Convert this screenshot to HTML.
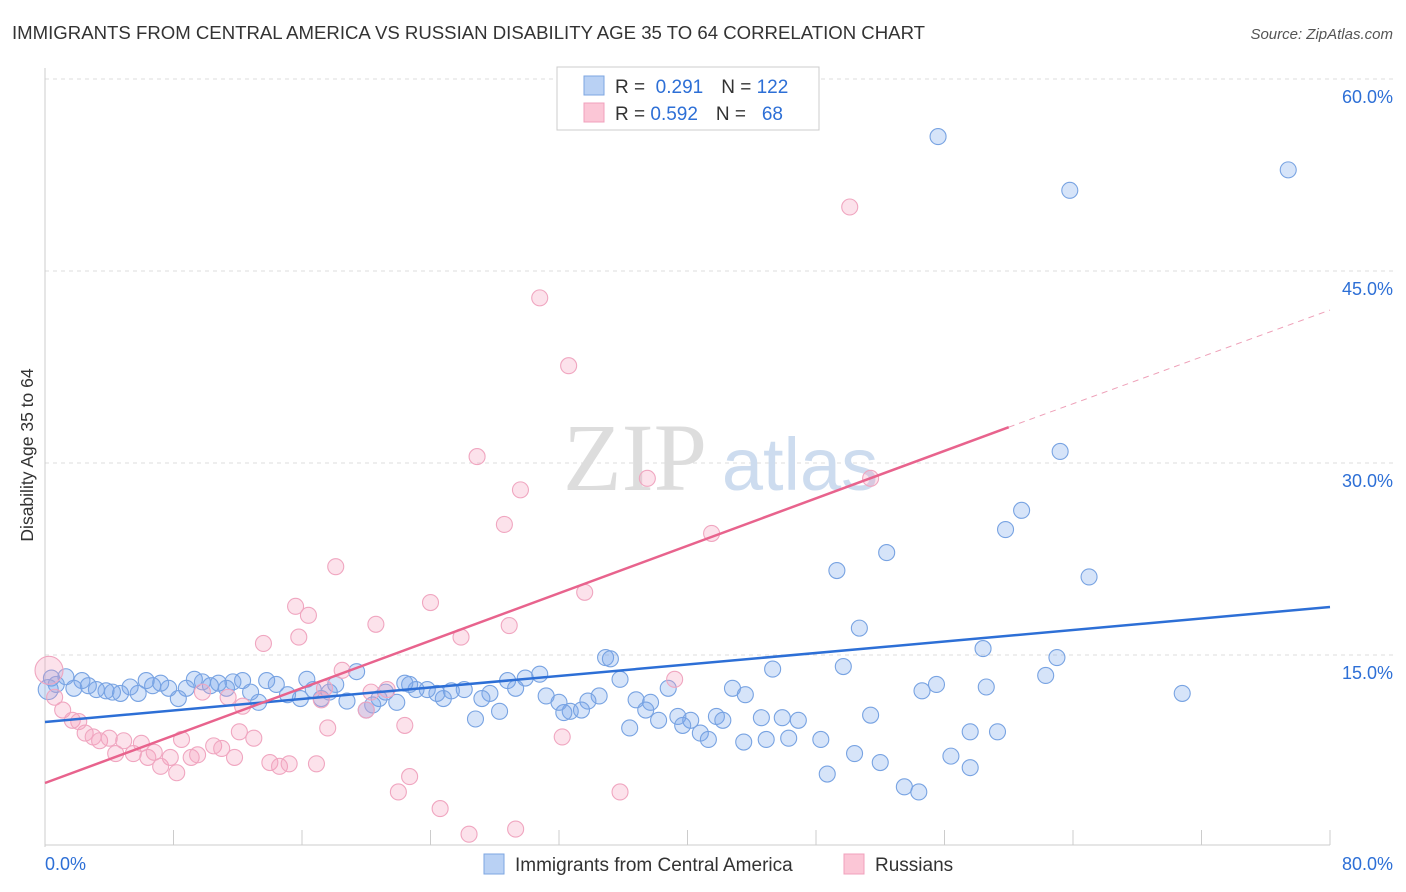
<!DOCTYPE html>
<html><head><meta charset="utf-8"><style>
body{margin:0;background:#fff;font-family:"Liberation Sans",sans-serif;}
svg{display:block}
</style></head><body>
<svg id="chart" width="1406" height="892">
<text x="12" y="39" font-size="18.6" fill="#333">IMMIGRANTS FROM CENTRAL AMERICA VS RUSSIAN DISABILITY AGE 35 TO 64 CORRELATION CHART</text>
<text x="1393" y="39" font-size="15" fill="#555" font-style="italic" text-anchor="end">Source: ZipAtlas.com</text>
<text transform="translate(33,455) rotate(-90)" font-size="17.5" fill="#333" text-anchor="middle">Disability Age 35 to 64</text>
<g id="grid"></g>
<g>
<text x="635" y="490" font-size="96" font-family="Liberation Serif,serif" fill="#ddd" text-anchor="middle">ZIP</text>
<text x="800" y="490" font-size="74" fill="#cddcef" text-anchor="middle">atlas</text>
</g>
<g id="pts"></g>
<g id="lines"></g>
<g>
<rect x="557" y="67" width="262" height="63" fill="#fff" stroke="#ccc"/>
<rect x="584" y="76" width="20" height="19" fill="#b9d1f4" stroke="#7da6e2"/>
<rect x="584" y="103" width="20" height="19" fill="#fbc6d6" stroke="#f0a0bc"/>
<text x="615" y="93" font-size="19" fill="#333">R = <tspan fill="#2d6fd6">&#160;0.291</tspan><tspan dx="18">N = </tspan><tspan fill="#2d6fd6">122</tspan></text>
<text x="615" y="120" font-size="19" fill="#333">R = <tspan fill="#2d6fd6">0.592</tspan><tspan dx="18">N = </tspan><tspan fill="#2d6fd6">&#160;&#160;68</tspan></text>
</g>
<g>
<rect x="484" y="854" width="20" height="20" fill="#b9d1f4" stroke="#7da6e2"/>
<text x="515" y="871" font-size="19" fill="#333">Immigrants from Central America</text>
<rect x="844" y="854" width="20" height="20" fill="#fbc6d6" stroke="#f0a0bc"/>
<text x="875" y="871" font-size="19" fill="#333">Russians</text>
</g>
</svg>
<script>
const yTicks=[15,30,45,60];
const xTickLabels=["0.0%","80.0%"];
const blueX=[55.6,77.4,63.8,63.2,60.8,59.8,52.4,49.3,65.0,50.7,58.4,63.0,49.7,45.3,62.3,55.5,54.6,58.6,70.8,42.8,43.6,51.4,44.6,45.9,46.9,41.8,42.2,40.2,39.4,38.2,39.7,40.8,41.3,43.5,44.9,46.3,48.3,57.6,59.3,50.4,56.4,52.0,57.6,48.7,53.5,54.4,36.4,34.9,35.2,35.8,34.5,33.8,36.8,37.7,37.4,38.8,32.7,33.4,32.3,32.0,31.2,30.8,29.9,28.8,29.3,27.7,28.3,26.8,27.2,26.1,25.3,24.8,24.4,23.8,23.1,22.7,22.4,21.9,21.2,20.8,20.4,20.0,19.4,18.1,18.8,17.7,17.2,16.7,16.3,15.9,15.1,14.4,13.8,13.3,12.8,12.3,11.7,11.3,10.8,10.3,9.8,9.3,8.8,8.3,7.7,7.2,6.7,6.3,5.8,5.3,4.7,4.2,3.8,3.2,2.7,2.3,1.8,1.3,0.7,0.4,0.2];
const blueY=[55.5,52.9,51.3,30.9,26.3,24.8,23.0,21.6,21.1,17.1,15.5,14.8,14.1,13.9,13.4,12.7,12.2,12.5,12.0,12.4,11.9,10.3,10.1,10.1,9.9,10.2,9.9,9.9,10.2,9.9,9.5,8.9,8.4,8.2,8.4,8.5,8.4,9.0,9.0,7.3,7.1,6.6,6.2,5.7,4.7,4.3,9.3,14.8,14.7,13.1,11.8,11.4,11.5,11.3,10.7,12.4,10.6,10.7,10.5,11.3,11.8,13.5,13.2,13.0,12.4,12.0,10.6,10.0,11.6,12.3,12.2,11.6,12.0,12.3,12.3,12.7,12.8,11.3,12.1,11.6,11.1,10.7,13.7,12.7,11.4,12.1,11.6,12.3,13.1,11.6,11.9,12.7,13.0,11.3,12.1,13.0,12.9,12.4,12.8,12.6,12.9,13.1,12.4,11.6,12.4,12.8,12.6,13.0,12.0,12.5,12.0,12.1,12.2,12.3,12.6,13.0,12.4,13.3,12.7,13.2,12.3];
const pinkX=[50.1,30.8,32.6,26.9,37.5,29.6,51.4,28.6,41.5,18.1,33.6,24.0,15.6,16.4,20.6,28.9,15.8,25.9,13.6,18.5,39.2,17.4,21.3,20.3,9.8,11.4,12.3,20.0,17.2,0.25,0.6,1.1,1.7,2.1,2.5,3.0,3.4,4.0,4.4,4.9,5.5,6.0,6.4,6.8,7.2,7.8,8.2,8.5,9.1,9.5,10.5,11.0,11.8,12.1,13.0,14.0,14.6,15.2,16.9,17.6,22.4,22.7,22.0,24.6,26.4,29.3,32.2,35.8];
const pinkY=[50.0,42.9,37.6,30.5,28.8,27.9,28.8,25.2,24.5,21.9,19.9,19.1,18.8,18.1,17.4,17.3,16.4,16.4,15.9,13.8,13.1,12.4,12.3,12.1,12.1,11.7,11.0,10.7,11.5,13.8,11.7,10.7,9.9,9.8,8.9,8.6,8.3,8.5,7.3,8.3,7.3,8.1,7.0,7.4,6.3,7.0,5.8,8.4,7.0,7.2,7.9,7.7,7.0,9.0,8.5,6.6,6.3,6.5,6.5,9.3,9.5,5.5,4.3,3.0,1.0,1.4,8.6,4.3];
const blueLine=[[0,9.77],[80,18.75]];
const pinkLine=[[0,5.0],[60,32.8]];
const pinkDash=[[60,32.8],[80,41.95]];
const NS="http://www.w3.org/2000/svg";
const X=v=>45+v/80*1285, Y=v=>847-v*12.8;
function mk(tag,attrs,parent){const e=document.createElementNS(NS,tag);for(const k in attrs)e.setAttribute(k,attrs[k]);parent.appendChild(e);return e;}
const grid=document.getElementById('grid');
yTicks.forEach(t=>{
 const l=mk('line',{x1:45,x2:1393,y1:Y(t),y2:Y(t),stroke:'#ddd','stroke-dasharray':'4,4'},grid);
 
 
 const tx=mk('text',{x:1393,y:Y(t)+24,'font-size':18,fill:'#2d6fd6','text-anchor':'end'},grid);
 tx.textContent=t.toFixed(1)+'%';
 
 
});
const ya=mk('line',{x1:45,x2:45,y1:68,y2:847,stroke:'#ccc'},grid);


const xa=mk('line',{x1:45,x2:1330,y1:845,y2:845,stroke:'#ccc'},grid);


for(let i=0;i<=10;i++){const t=mk('line',{x1:X(i*8),x2:X(i*8),y1:830,y2:845,stroke:'#ccc'},grid);
 
 }
const xl0=mk('text',{x:45,y:870,'font-size':18,fill:'#2d6fd6'},grid);xl0.textContent=xTickLabels[0];


const xl1=mk('text',{x:1393,y:870,'font-size':18,fill:'#2d6fd6','text-anchor':'end'},grid);xl1.textContent=xTickLabels[1];


const pts=document.getElementById('pts');
blueX.forEach((x,i)=>{const c=mk('circle',{cx:X(x),cy:Y(blueY[i]),r:(i===blueX.length-1?10:8),fill:'rgba(120,165,235,0.3)',stroke:'#78a3e2','stroke-width':1.1},pts);
 
 });
pinkX.forEach((x,i)=>{const c=mk('circle',{cx:X(x),cy:Y(pinkY[i]),r:(i===29?14:8),fill:'rgba(245,160,190,0.3)',stroke:'#f0a6c0','stroke-width':1.1},pts);
 
 });
const lines=document.getElementById('lines');
const bl=mk('line',{x1:X(blueLine[0][0]),y1:Y(blueLine[0][1]),x2:X(blueLine[1][0]),y2:Y(blueLine[1][1]),stroke:'#2d6fd6','stroke-width':2.5},lines);


const pl=mk('line',{x1:X(pinkLine[0][0]),y1:Y(pinkLine[0][1]),x2:X(pinkLine[1][0]),y2:Y(pinkLine[1][1]),stroke:'#e8638d','stroke-width':2.5},lines);


const pd=mk('line',{x1:X(pinkDash[0][0]),y1:Y(pinkDash[0][1]),x2:X(pinkDash[1][0]),y2:Y(pinkDash[1][1]),stroke:'#eea0b8','stroke-width':1,'stroke-dasharray':'6,5'},lines);


</script>
</body></html>
